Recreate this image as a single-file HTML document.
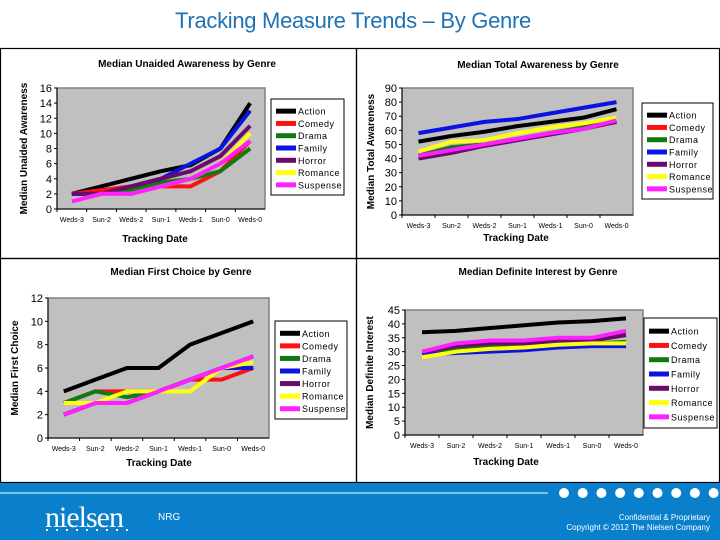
<!DOCTYPE html>
<html><head><meta charset="utf-8"><style>
body{margin:0;width:720px;height:540px;overflow:hidden;background:#fff;font-family:"Liberation Sans",sans-serif}
svg{display:block}
</style></head><body>
<svg id="s" width="720" height="540">
<text x="353" y="28" text-anchor="middle" font-size="22" fill="#1f72b4" style="letter-spacing:-0.3px">Tracking Measure Trends – By Genre</text>
<g fill="none" stroke="#000" stroke-width="1.2">
<rect x="0.5" y="48.5" width="356" height="210"/>
<rect x="356.5" y="48.5" width="363" height="210"/>
<rect x="0.5" y="258.5" width="356" height="224"/>
<rect x="356.5" y="258.5" width="363" height="224"/>
</g>
<rect x="0" y="483" width="720" height="57" fill="#0a80cc"/>
<line x1="0" y1="493" x2="548" y2="493" stroke="#fff" stroke-width="1"/>
<g id="dots"></g>
<text x="45" y="527" font-family="Liberation Serif,serif" font-size="30" fill="#fff" style="letter-spacing:-1px">nielsen</text>
<text x="158" y="520" font-size="10" fill="#fff">NRG</text>
<text x="710" y="520" text-anchor="end" font-size="8" fill="#fff">Confidential &amp; Proprietary</text>
<text x="710" y="530" text-anchor="end" font-size="8" fill="#fff">Copyright © 2012 The Nielsen Company</text>
</svg>
<script>
const categories=["Weds-3","Sun-2","Weds-2","Sun-1","Weds-1","Sun-0","Weds-0"];
const genres=["Action","Comedy","Drama","Family","Horror","Romance","Suspense"];
const colors=["#000000","#ff1010","#107a10","#0a14e0","#6a0a6a","#ffff10","#ff20ff"];
// Chart 1: unaided awareness
const unaided=[[2,3,4,5,5.8,8,14],[2,2.5,3,3,3,5,9],[2,2,2.5,3.5,4,5,8],[2,2,3,4,6,8,13],[2,2,3,4,5,7,11],[1,2,2,3,4,6,10],[1,2,2,3,4,6,9]];
const unaidedTicks=[0,2,4,6,8,10,12,14,16];
// Chart 2: total awareness
const total=[[52,56,59,63,66,69,75],[42,48,50,54,58,62,67],[42,48,50,54,58,62,67],[58,62,66,68,72,76,80],[40,44,49,53,57,61,66],[45,52,53,58,62,65,69],[42,46,50,54,58,61,67]];
const totalTicks=[0,10,20,30,40,50,60,70,80,90];
// Chart 3: first choice
const first=[[4,5,6,6,8,9,10],[3,4,4,4,5,5,6],[3,4,3.5,4,5,6,6],[2,3,3,4,5,6,6],[2,3,3,4,5,6,7],[3,3,4,4,4,6,6.5],[2,3,3,4,5,6,7]];
const firstTicks=[0,2,4,6,8,10,12];
// Chart 4: definite interest
const definite=[[37,37.5,38.5,39.5,40.5,41,42],[30,32,33,33,34,34,36],[29,31,32,33,33,33,33.5],[29,29.5,30,30.5,31.5,32,32],[30,32,33,33,34,34,36],[28,30,31,31.5,32.5,33,33],[30,33,34,34,35,35,37.5]];
const definiteTicks=[0,5,10,15,20,25,30,35,40,45];

const NS="http://www.w3.org/2000/svg";
const svg=document.getElementById('s');
function mk(tag,attrs,parent,text){const e=document.createElementNS(NS,tag);for(const k in attrs)e.setAttribute(k,attrs[k]);if(text!==undefined)e.textContent=text;parent.appendChild(e);return e;}

function chart(o){
  const g=mk('g',{},svg);
  
  
  const t=mk('text',{x:o.tx,y:o.ty,'text-anchor':'middle','font-size':10,'font-weight':'bold'},g,o.title);
  
  
  const max=o.ticks[o.ticks.length-1];
  const sy=v=>o.y1-(v/max)*(o.y1-o.y0);
  const bw=(o.x1-o.x0)/categories.length;
  const sx=i=>o.x0+bw*(i+0.5);
  const bg=mk('rect',{x:o.x0,y:o.y0,width:o.x1-o.x0,height:o.y1-o.y0,fill:'#c0c0c0',stroke:'#808080','stroke-width':1.5},g);
  
  
  mk('line',{x1:o.x0,y1:o.y0,x2:o.x0,y2:o.y1,stroke:'#000'},g);
  mk('line',{x1:o.x0,y1:o.y1,x2:o.x1,y2:o.y1,stroke:'#000'},g);
  o.ticks.forEach(v=>{
    mk('line',{x1:o.x0-3,y1:sy(v),x2:o.x0,y2:sy(v),stroke:'#000'},g);
    const tl=mk('text',{x:o.x0-5,y:sy(v)+4,'text-anchor':'end','font-size':11},g,v);
    
    
  });
  categories.forEach((c,i)=>{
    mk('line',{x1:o.x0+bw*i,y1:o.y1,x2:o.x0+bw*i,y2:o.y1+3,stroke:'#000'},g);
    const cl=mk('text',{x:sx(i),y:o.y1+13,'text-anchor':'middle','font-size':7},g,c);
    
    
  });
  const yt=mk('text',{x:0,y:0,'text-anchor':'middle','font-size':10,'font-weight':'bold',transform:`translate(${o.yx},${(o.y0+o.y1)/2}) rotate(-90)`},g,o.ytitle);
  
  
  const xt=mk('text',{x:o.xtx,y:o.xty,'text-anchor':'middle','font-size':10,'font-weight':'bold'},g,'Tracking Date');
  
  
  const order=[6,5,4,2,1,3,0].reverse();
  o.data.forEach((s,k)=>{
    const p=mk('polyline',{points:s.map((v,i)=>sx(i)+','+sy(v)).join(' '),fill:'none',stroke:colors[k],'stroke-width':4,'stroke-linejoin':'round'},g);
    
    
  });
  const lg=mk('g',{},g);
  
  
  mk('rect',{x:o.lx,y:o.ly,width:o.lw,height:o.lh,fill:'#fff',stroke:'#000'},lg);
  const step=(o.lh-10)/genres.length;
  genres.forEach((gn,k)=>{
    const yy=o.ly+6+step*(k+0.5);
    const e=mk('g',{},lg);
    
    
    mk('rect',{x:o.lx+5,y:yy-2.5,width:20,height:5,fill:colors[k]},e);
    mk('text',{x:o.lx+27,y:yy+3.5,'font-size':9,'letter-spacing':'0.5'},e,gn);
  });
}
chart({name:'unaided-awareness-chart',title:'Median Unaided Awareness by Genre',tx:187,ty:67,x0:57,x1:265,y0:88,y1:209,ticks:unaidedTicks,data:unaided,ytitle:'Median Unaided Awareness',yx:27,xtx:155,xty:242,lx:271,ly:99,lw:73,lh:96});
chart({name:'total-awareness-chart',title:'Median Total Awareness by Genre',tx:538,ty:68,x0:402,x1:633,y0:88,y1:215,ticks:totalTicks,data:total,ytitle:'Median Total Awareness',yx:374,xtx:516,xty:241,lx:642,ly:103,lw:71,lh:96});
chart({name:'first-choice-chart',title:'Median First Choice by Genre',tx:181,ty:275,x0:48,x1:269,y0:298,y1:438,ticks:firstTicks,data:first,ytitle:'Median First Choice',yx:18,xtx:159,xty:466,lx:275,ly:321,lw:72,lh:98});
chart({name:'definite-interest-chart',title:'Median Definite Interest by Genre',tx:538,ty:275,x0:405,x1:643,y0:310,y1:435,ticks:definiteTicks,data:definite,ytitle:'Median Definite Interest',yx:373,xtx:506,xty:465,lx:644,ly:318,lw:73,lh:110});
const dots=document.getElementById('dots');
for(let i=0;i<9;i++){const c=mk('circle',{cx:564+i*18.7,cy:493,r:5,fill:'#fff'},dots);}
for(let i=0;i<9;i++){const c=mk('rect',{x:46+i*10,y:529,width:2,height:2,fill:'#fff'},svg);}
</script>
</body></html>
